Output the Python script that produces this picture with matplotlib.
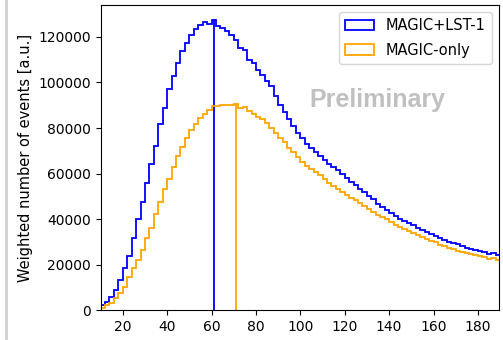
import numpy as np
import matplotlib
matplotlib.use('Agg')
import matplotlib.pyplot as plt
from matplotlib.lines import Line2D

# histogram bins (width 2, from 10 to 190)
bin_edges = np.arange(10, 192, 2)
bin_centers = 0.5 * (bin_edges[:-1] + bin_edges[1:])

# weighted counts
magic_lst1 = [2200, 3500, 5900, 8800, 13200, 18300, 23800, 31500, 39900, 47700,
              55700, 64100, 72300, 81700, 88800, 97100, 102700, 108600, 113700, 117400,
              121000, 123500, 125400, 126400, 125800, 127300, 125000, 124000, 122500, 121000,
              118800, 115100, 114400, 110000, 108500, 105600, 103400, 100500, 98300, 94000,
              90000, 87200, 84000, 80800, 78000, 75600, 73000, 71200, 69300, 67800,
              66000, 64200, 63000, 61500, 59800, 58000, 56300, 54900, 53200, 51700,
              50200, 48600, 46700, 45200, 43900, 42600, 41500, 40000, 39200, 38300,
              37200, 36100, 35300, 34200, 33300, 32600, 31600, 30900, 30100, 29500,
              28900, 28200, 27400, 26900, 26400, 26000, 25400, 24700, 25000, 24000]

magic_only = [1000, 2200, 3200, 5100, 7300, 10300, 14700, 18300, 22000, 26400,
              31500, 36200, 42300, 47600, 53200, 57800, 63000, 67500, 71500, 75800,
              79000, 81800, 84200, 86000, 87800, 89500, 89800, 90000, 90200, 90300,
              90600, 88800, 89200, 87500, 86200, 85000, 83800, 82000, 79800, 78000,
              75800, 73700, 71200, 69300, 67200, 65200, 63400, 61800, 60600, 59300,
              57700, 55900, 54600, 53300, 51800, 50400, 49400, 48200, 47100, 45900,
              44400, 43200, 41900, 40900, 40100, 38800, 37500, 36400, 35500, 34600,
              33800, 33000, 32200, 31200, 30300, 29800, 28800, 28000, 27300, 26800,
              26000, 25500, 25000, 24600, 24000, 23700, 23300, 22600, 23000, 22100]

labels = ['MAGIC+LST-1', 'MAGIC-only']
colors = ['blue', 'orange']

plt.rcParams['font.size'] = 10

fig = plt.figure(figsize=(5.03, 3.40), dpi=100)
ax = fig.add_axes([0.200, 0.088, 0.792, 0.897])

for vals, lab, col in zip([magic_lst1, magic_only], labels, colors):
	vals = np.array(vals)
	ax.hist(bin_centers, bins=bin_edges, weights=vals, histtype='step',
	        color=col, linewidth=1.3, label=lab)
	# line at the peak bin
	i_max = np.argmax(vals)
	ax.vlines(bin_centers[i_max], 0, vals[i_max], color=col, linewidth=1.3)

ax.set_xlim(10, 189.5)
ax.set_ylim(0, 134000)
ax.set_xticks(np.arange(20, 181, 20))
ax.set_yticks(np.arange(0, 120001, 20000))
ax.set_ylabel('Weighted number of events [a.u.]', fontsize=10.5)

ax.text(0.696, 0.689, 'Preliminary', transform=ax.transAxes, ha='center', va='center',
        fontsize=18, fontweight='bold', family=['Liberation Sans', 'DejaVu Sans'],
        color='#c0c0c0')

ax.legend(loc='upper right', fontsize=10.5, labelspacing=0.65, borderaxespad=0.5)

# light border at the left of the screenshot
fig.add_artist(Line2D([0.012, 0.012], [0, 1], color='#d0d0d0', linewidth=2))

fig.savefig('out.png', dpi=100)
